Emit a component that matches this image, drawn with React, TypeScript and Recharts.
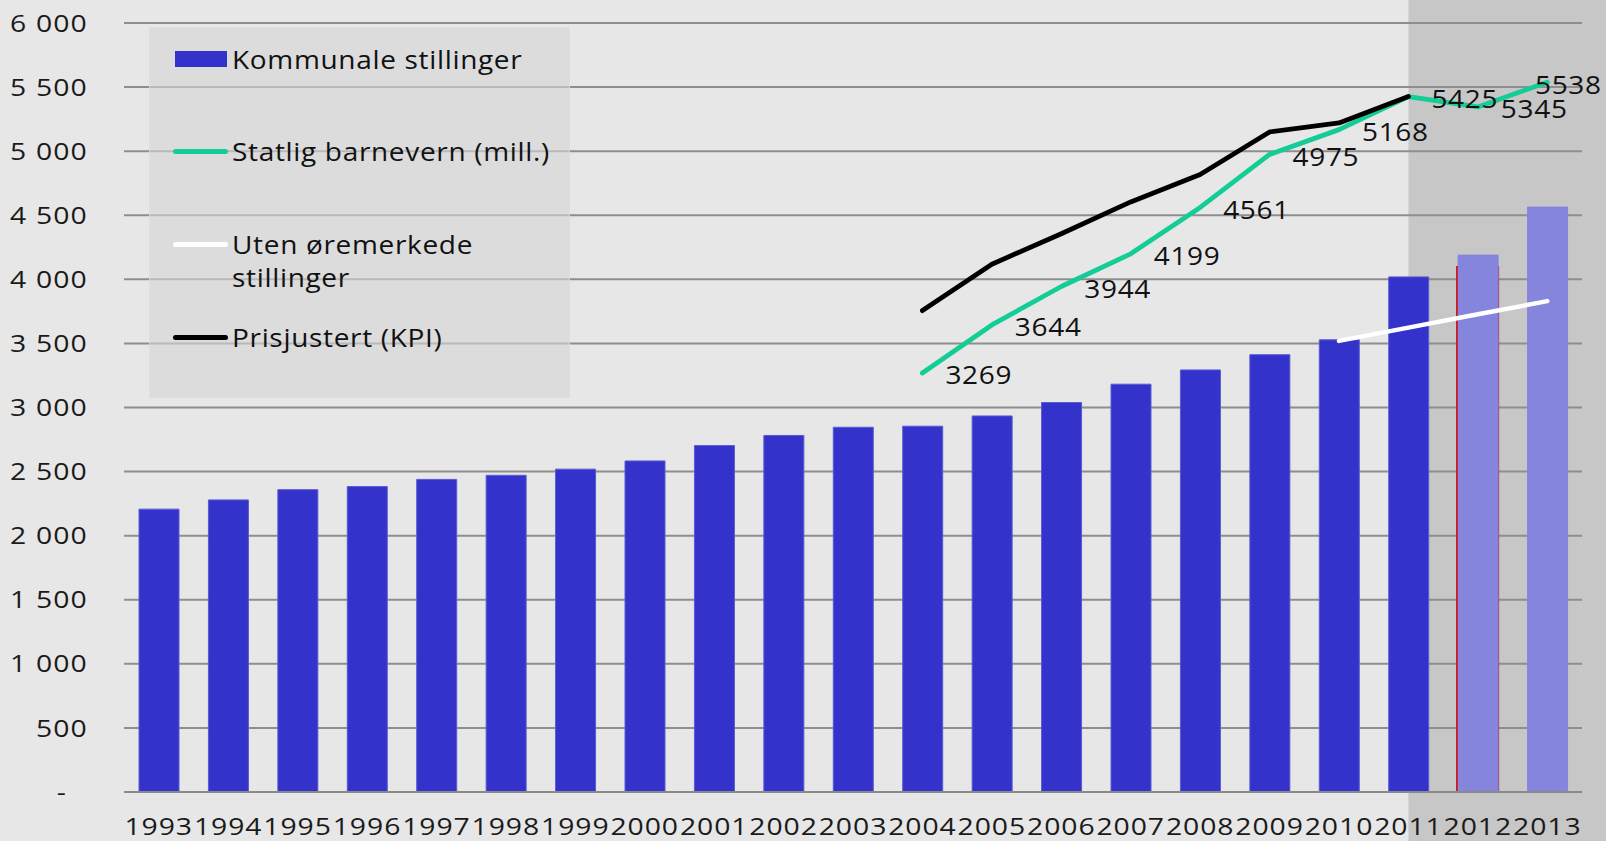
import {
  ComposedChart,
  Bar,
  Line,
  XAxis,
  YAxis,
  CartesianGrid,
  ReferenceArea,
  LabelList,
  Cell,
} from 'recharts';

const CHART_W = 1606;
const CHART_H = 841;
const FONT = '"Open Sans", "Noto Sans", sans-serif';
// the source type is a touch wider than Open Sans, so text is stretched a little sideways
const STRETCH = 1.18;

const years = [
  '1993', '1994', '1995', '1996', '1997', '1998', '1999', '2000', '2001', '2002', '2003',
  '2004', '2005', '2006', '2007', '2008', '2009', '2010', '2011', '2012', '2013',
];
const kommunale = [
  2207, 2279, 2359, 2383, 2439, 2471, 2519, 2583, 2703, 2782, 2846,
  2854, 2934, 3039, 3182, 3293, 3412, 3528, 4019, 4189, 4564,
];
const statlig = [
  null, null, null, null, null, null, null, null, null, null, null,
  3269, 3644, 3944, 4199, 4561, 4975, 5168, 5425, 5345, 5538,
];
const prisjustert = [
  null, null, null, null, null, null, null, null, null, null, null,
  3756, 4118, 4356, 4604, 4818, 5150, 5220, 5426, null, null,
];
const utenOremerkede = [
  null, null, null, null, null, null, null, null, null, null, null,
  null, null, null, null, null, null, 3520, 3623, 3727, 3830,
];
// red outlined bar behind the 2012 column
const markert = [
  null, null, null, null, null, null, null, null, null, null, null,
  null, null, null, null, null, null, null, null, 4097, null,
];
const prognoseYears = ['2012', '2013'];
const shadeFrom = '2011';
const shadeTo = '2013';
const yTicks = [0, 500, 1000, 1500, 2000, 2500, 3000, 3500, 4000, 4500, 5000, 5500, 6000];

const legendItems = [
  { label: ['Kommunale stillinger'], kind: 'rect', color: '#3333cc' },
  { label: ['Statlig barnevern (mill.)'], kind: 'line', color: '#14cc96' },
  { label: ['Uten øremerkede', 'stillinger'], kind: 'line', color: '#ffffff' },
  { label: ['Prisjustert (KPI)'], kind: 'line', color: '#000000' },
];

const data = years.map((year, i) => ({
  year,
  kommunale: kommunale[i],
  statlig: statlig[i],
  prisjustert: prisjustert[i],
  utenOremerkede: utenOremerkede[i],
  markert: markert[i],
}));

function formatTick(v: number): string {
  if (v === 0) return '-';
  if (v >= 1000) return `${Math.floor(v / 1000)} ${String(v % 1000).padStart(3, '0')}`;
  return String(v);
}

function YTick({ x, y, payload }: any) {
  const v = payload.value as number;
  const tx = v === 0 ? x - 21 : x;
  return (
    <g transform={`translate(${tx},${y}) scale(${STRETCH},1)`}>
      <text
        x={0}
        y={0}
        dy="0.36em"
        textAnchor="end"
        fontFamily={FONT}
        fontSize={24}
        letterSpacing={1}
        fill="#1a1a1a"
      >
        {formatTick(v)}
      </text>
    </g>
  );
}

function XTick({ x, y, payload }: any) {
  return (
    <g transform={`translate(${x},${y + 43}) scale(${STRETCH},1)`}>
      <text
        x={0}
        y={0}
        textAnchor="middle"
        fontFamily={FONT}
        fontSize={24}
        letterSpacing={0.8}
        fill="#1a1a1a"
      >
        {payload.value}
      </text>
    </g>
  );
}

function GreenLabel(props: any) {
  const { value } = props;
  if (value == null) return null;
  const px = props.x ?? props.viewBox?.x;
  const py = props.y ?? props.viewBox?.y;
  const w = 67;
  let lx = px + 23;
  if (lx + w > CHART_W - 4) lx = CHART_W - 4 - w;
  return (
    <g transform={`translate(${lx},${py + 2}) scale(1.12,1)`}>
      <text
        x={0}
        y={0}
        dominantBaseline="central"
        fontFamily={FONT}
        fontSize={25}
        letterSpacing={0.6}
        fill="#111"
      >
        {value}
      </text>
    </g>
  );
}

// shaded forecast panel: from the middle of the first band out to the edge of the picture
function PrognoseShade(props: any) {
  const { x, width } = props;
  const bands = years.indexOf(shadeTo) - years.indexOf(shadeFrom) + 1;
  const start = x + width / bands / 2;
  return <rect x={start} y={0} width={CHART_W - start} height={CHART_H} fill="#c7c7c7" />;
}

function LegendBox() {
  const centers = [31, 123.5, 216, 309];
  return (
    <div
      style={{
        position: 'absolute',
        left: 149,
        top: 27,
        width: 421,
        height: 371,
        backgroundColor: 'rgba(214,214,214,0.6)',
        border: '1px solid rgba(222,222,222,0.7)',
        boxSizing: 'border-box',
        fontFamily: FONT,
        fontSize: 25,
        color: '#111',
        pointerEvents: 'none',
      }}
    >
      {legendItems.map((item, i) => (
        <div key={i} style={{ position: 'absolute', left: 0, top: centers[i] - 16.5, width: 421 }}>
          {item.kind === 'rect' ? (
            <div
              style={{ position: 'absolute', left: 25, top: 8.5, width: 52, height: 16, background: item.color }}
            />
          ) : (
            <div
              style={{
                position: 'absolute',
                left: 23,
                top: 14,
                width: 55,
                height: 5,
                borderRadius: 3,
                background: item.color,
              }}
            />
          )}
          <div
            style={{
              position: 'absolute',
              left: 82,
              top: 0,
              lineHeight: '33px',
              whiteSpace: 'nowrap',
              letterSpacing: 0.6,
              transform: 'scaleX(1.12)',
              transformOrigin: 'left center',
            }}
          >
            {item.label.map((l, j) => (
              <div key={j}>{l}</div>
            ))}
          </div>
        </div>
      ))}
    </div>
  );
}

export default function App() {
  return (
    <div
      style={{
        position: 'absolute',
        left: 0,
        top: 0,
        width: CHART_W,
        height: CHART_H,
        background: '#e7e7e7',
        overflow: 'hidden',
      }}
    >
      <ComposedChart
        width={CHART_W}
        height={CHART_H}
        data={data}
        margin={{ top: 23, right: 24, bottom: 0, left: 0 }}
        barGap={0}
      >
        <ReferenceArea
          x1={shadeFrom}
          x2={shadeTo}
          shape={<PrognoseShade />}
          ifOverflow="visible"
          zIndex={-200}
        />
        <CartesianGrid vertical={false} stroke="#8e8e8e" strokeWidth={2} />
        <XAxis
          dataKey="year"
          height={49}
          tickLine={false}
          tickSize={0}
          tickMargin={0}
          axisLine={{ stroke: '#8a8a8a', strokeWidth: 2 }}
          tick={<XTick />}
          interval={0}
        />
        <XAxis xAxisId="overlay" dataKey="year" hide />
        <YAxis
          width={124}
          domain={[0, 6000]}
          ticks={yTicks}
          tickLine={false}
          axisLine={false}
          tickSize={0}
          tickMargin={36}
          tick={<YTick />}
          interval={0}
        />
        <Bar
          xAxisId="overlay"
          dataKey="markert"
          barSize={41}
          fill="none"
          stroke="#d40000"
          strokeWidth={2}
          isAnimationActive={false}
        />
        <Bar dataKey="kommunale" name="Kommunale stillinger" barSize={40} isAnimationActive={false}>
          {data.map((d) => (
            <Cell
              key={d.year}
              fill={prognoseYears.includes(d.year) ? '#8585dd' : '#3333cc'}
              stroke={prognoseYears.includes(d.year) ? '#8585dd' : '#5a5ad2'}
              strokeWidth={1}
            />
          ))}
        </Bar>
        <Line
          dataKey="utenOremerkede"
          name="Uten øremerkede stillinger"
          type="linear"
          stroke="#ffffff"
          strokeWidth={4.5}
          strokeLinecap="round"
          dot={false}
          activeDot={false}
          isAnimationActive={false}
        />
        <Line
          dataKey="statlig"
          name="Statlig barnevern (mill.)"
          type="linear"
          stroke="#14cc96"
          strokeWidth={4.8}
          strokeLinecap="round"
          strokeLinejoin="round"
          dot={false}
          activeDot={false}
          isAnimationActive={false}
        >
          <LabelList dataKey="statlig" content={<GreenLabel />} />
        </Line>
        <Line
          dataKey="prisjustert"
          name="Prisjustert (KPI)"
          type="linear"
          stroke="#000000"
          strokeWidth={4.8}
          strokeLinecap="round"
          strokeLinejoin="round"
          dot={false}
          activeDot={false}
          isAnimationActive={false}
        />
      </ComposedChart>
      <LegendBox />
    </div>
  );
}
